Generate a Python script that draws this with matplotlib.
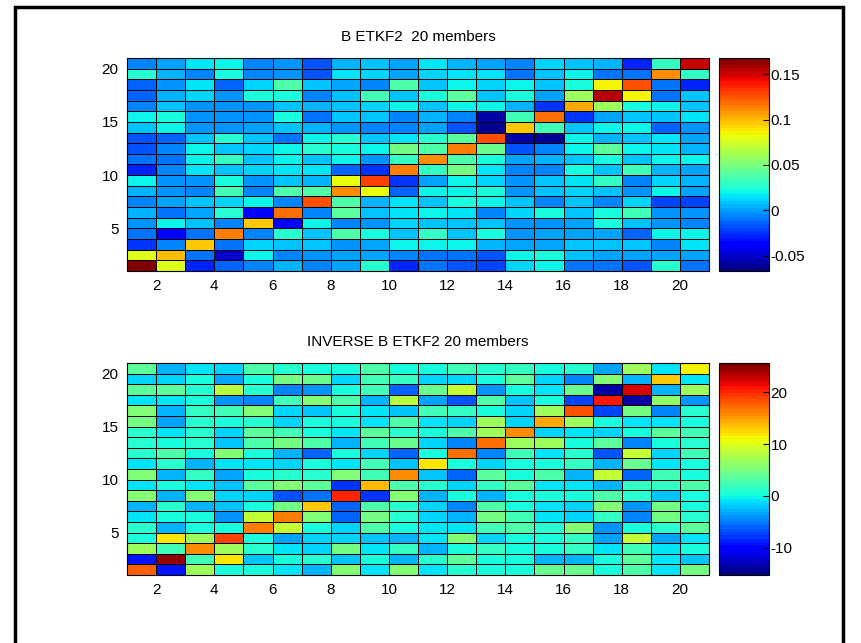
import numpy as np
import matplotlib.pyplot as plt
from matplotlib.patches import Rectangle

# B ETKF2 matrix, rows listed from y=20 (top) down to y=1
b_rows = [
    [-0.008, 0.002, 0.014, 0.021, -0.008, -0.001, -0.018, 0.004, 0.008, 0.000, 0.015, 0.004, 0.000, -0.006, 0.012, 0.008, 0.004, -0.030, 0.032, 0.152],
    [0.026, 0.006, -0.008, 0.022, -0.005, -0.001, -0.018, 0.016, 0.012, 0.002, 0.012, 0.014, 0.014, -0.011, 0.010, 0.018, -0.010, -0.010, 0.112, 0.032],
    [-0.015, -0.001, 0.014, -0.015, 0.012, 0.036, 0.010, 0.002, -0.005, 0.037, 0.008, 0.018, 0.012, 0.018, 0.008, 0.024, 0.085, 0.126, -0.010, -0.030],
    [-0.012, 0.004, 0.012, -0.003, 0.022, 0.022, -0.008, 0.010, 0.033, 0.008, 0.023, 0.042, 0.008, 0.022, 0.000, 0.058, 0.155, 0.085, -0.010, 0.008],
    [-0.006, 0.010, -0.001, -0.001, -0.001, 0.008, 0.006, 0.008, 0.012, 0.021, 0.008, 0.020, 0.020, 0.006, -0.025, 0.105, 0.058, 0.024, 0.018, 0.008],
    [0.021, 0.022, -0.001, -0.003, -0.003, 0.024, -0.010, 0.010, 0.010, -0.006, 0.004, -0.006, -0.058, 0.035, 0.118, -0.025, 0.002, 0.008, 0.010, 0.014],
    [0.010, 0.021, -0.001, -0.003, 0.000, 0.010, 0.006, -0.001, -0.005, -0.005, 0.000, -0.018, -0.060, 0.095, 0.035, 0.008, 0.018, 0.018, -0.013, -0.003],
    [-0.018, -0.015, 0.008, 0.026, 0.008, -0.011, 0.018, 0.026, 0.010, 0.014, 0.026, 0.042, 0.126, -0.058, -0.060, 0.020, 0.006, 0.010, 0.014, 0.000],
    [-0.017, -0.006, 0.021, 0.008, 0.012, 0.018, 0.026, 0.022, 0.021, 0.048, 0.038, 0.114, 0.045, -0.018, -0.006, 0.021, 0.042, 0.018, 0.014, 0.006],
    [-0.011, -0.011, 0.021, 0.030, 0.010, 0.018, 0.010, 0.018, -0.001, 0.032, 0.110, 0.037, 0.024, 0.000, 0.006, 0.008, 0.024, 0.008, 0.018, 0.018],
    [-0.028, -0.006, 0.016, 0.008, 0.012, 0.014, 0.014, -0.015, -0.024, 0.116, 0.032, 0.048, 0.016, -0.005, -0.008, 0.022, 0.008, 0.035, 0.004, 0.000],
    [0.018, -0.001, -0.003, 0.024, -0.003, 0.010, 0.006, 0.082, 0.130, -0.025, 0.000, 0.021, 0.012, -0.003, 0.010, 0.016, 0.030, -0.006, 0.012, 0.006],
    [0.006, -0.003, -0.008, 0.035, -0.005, 0.037, 0.038, 0.110, 0.082, -0.015, 0.018, 0.020, 0.024, -0.003, 0.010, 0.012, 0.008, -0.001, 0.018, 0.000],
    [-0.006, 0.000, 0.010, 0.012, 0.021, -0.005, 0.126, 0.038, 0.006, 0.014, 0.010, 0.024, 0.018, 0.008, -0.008, 0.010, -0.006, 0.012, -0.020, -0.022],
    [0.006, -0.010, 0.000, 0.028, -0.035, 0.120, -0.006, 0.040, 0.008, 0.014, 0.018, 0.014, -0.008, 0.012, 0.024, 0.008, 0.023, 0.035, -0.003, -0.001],
    [-0.001, 0.018, 0.010, -0.006, 0.095, -0.035, 0.020, -0.005, -0.003, 0.012, 0.010, 0.008, 0.010, -0.001, -0.001, 0.002, 0.023, 0.010, -0.003, -0.006],
    [-0.011, -0.040, -0.011, 0.116, -0.005, 0.028, 0.010, 0.037, 0.023, 0.010, 0.030, 0.008, 0.024, -0.001, 0.000, 0.000, 0.000, -0.015, 0.021, 0.021],
    [-0.025, -0.005, 0.095, -0.010, 0.012, 0.010, 0.010, -0.003, 0.000, 0.018, 0.020, 0.021, 0.006, 0.000, 0.002, 0.008, 0.008, 0.010, -0.005, 0.016],
    [0.078, 0.100, -0.010, -0.050, 0.018, -0.006, -0.001, 0.000, 0.000, -0.006, -0.010, -0.010, -0.018, 0.021, 0.022, 0.010, 0.000, 0.002, 0.002, 0.000],
    [0.165, 0.078, -0.030, -0.015, -0.005, 0.006, -0.005, 0.002, 0.025, -0.030, -0.011, -0.018, -0.020, 0.012, 0.021, -0.011, -0.011, -0.017, 0.026, -0.010],
]

# inverse B, same ordering
inv_rows = [
    [3.8, -2.8, -1.2, -1.5, 3.0, 0.8, 0.3, 0.1, 3.2, 0.4, 0.1, 2.0, 1.0, 1.8, 0.5, 1.0, -3.5, 7.0, -1.2, 11.5],
    [-1.5, -1.5, 0.6, -3.5, 0.5, 5.0, 4.0, -1.8, 2.5, 1.8, -1.5, -1.8, 0.5, 3.5, -1.8, -4.7, 5.8, -2.8, 13.5, -1.2],
    [3.5, 3.5, 1.0, 8.0, 1.0, -5.0, -3.8, 0.6, 2.5, -6.0, 4.2, 8.8, -3.8, 0.1, -1.2, 4.0, -14.0, 22.0, -2.8, 7.0],
    [-0.8, -0.8, 0.5, -3.8, -4.5, 2.5, 5.8, 2.7, -2.8, 8.0, -3.5, -6.8, 3.0, -2.2, 0.4, -7.6, 21.0, -14.0, 6.0, -3.8],
    [5.5, -2.8, 1.8, 2.5, 5.8, -1.5, -2.2, 0.5, -0.8, -2.2, 2.5, 1.8, 0.1, -1.8, 7.0, 18.5, -7.6, 5.0, -4.5, 1.0],
    [5.0, -3.5, 1.0, 0.1, 1.3, -1.5, 0.3, 0.3, -0.8, 3.0, -0.8, -1.5, 7.0, -1.5, 14.5, 7.0, 0.5, -1.2, -1.2, 0.5],
    [1.0, -1.2, 1.3, -1.5, 3.5, 2.5, 0.1, -0.8, 3.5, 1.3, 0.3, 3.0, 7.0, 15.8, -1.5, -1.2, -1.8, 0.1, 3.5, 2.3],
    [1.0, 0.3, 1.0, -2.2, 3.0, 5.0, 3.0, -3.1, 2.5, 4.2, -1.8, -4.5, 17.0, 7.0, 7.0, 0.1, 3.5, -4.5, 0.3, 1.3],
    [1.0, 3.0, 0.5, 5.8, 0.3, -3.1, -5.8, 0.5, -1.5, -6.3, 0.1, 17.0, -4.5, 2.5, -1.2, 1.3, -6.5, 8.8, -1.5, 2.3],
    [-1.2, 1.3, -3.1, -1.2, -1.2, -1.8, 0.1, -1.2, 2.5, -2.2, 12.0, 0.1, -1.8, 0.3, 0.1, 1.8, -2.8, 4.2, -0.8, 0.1],
    [5.8, -3.1, 1.8, -3.5, 0.1, 1.3, 1.0, 5.8, 2.5, 15.8, -2.2, -6.0, 3.5, 0.6, 3.0, -2.5, 8.5, -6.3, 2.5, 0.1],
    [-1.2, 0.5, -1.2, -2.2, 3.5, 5.8, 3.5, -8.0, 14.0, 3.0, 1.3, -1.5, 1.8, 3.5, -0.8, -0.8, -2.8, 1.8, 1.8, 3.0],
    [5.8, -2.5, 5.5, -1.5, -1.8, -6.5, -5.5, 20.0, -8.0, 5.8, -2.5, 0.6, -3.1, 0.3, 0.5, 0.6, 3.0, 1.0, -2.2, 0.1],
    [-2.8, 1.0, -2.8, -2.2, 0.5, 5.0, 13.5, -5.8, 3.0, 1.0, -1.5, -4.5, 3.0, 0.1, -0.8, -1.8, 5.5, -4.2, 5.0, 0.1],
    [-1.2, 0.1, 0.3, -3.8, 8.8, 16.2, 5.8, -5.8, 5.0, 1.0, -1.8, -2.8, 5.0, 2.5, -1.2, -1.8, 1.8, -4.5, 5.0, 1.0],
    [1.0, -2.5, 0.1, 0.1, 16.2, 8.8, 0.1, -1.5, 3.0, 0.1, -1.2, -0.8, 2.5, 3.0, 1.0, 5.8, -4.2, 0.5, 1.0, 3.5],
    [0.1, 12.0, 6.5, 19.0, 0.1, -3.5, -1.8, -1.5, -2.2, -2.8, -0.8, 5.8, -1.8, 0.3, 0.1, 1.8, -3.5, 8.5, -3.5, -1.2],
    [7.0, 2.5, 15.8, 6.5, 1.0, -0.8, -1.8, 5.0, -0.8, 1.8, -2.5, 0.5, 1.8, 0.6, 0.1, 1.8, -1.2, 2.5, -0.8, 0.1],
    [-9.0, 25.0, 2.5, 12.0, -2.2, 0.1, 1.0, -2.2, 0.3, -2.5, 1.3, 3.5, 0.1, 0.5, -3.1, -2.8, 0.1, 3.5, -1.2, -2.2],
    [17.5, -9.0, 7.0, 0.3, 0.6, -1.2, -2.5, 5.8, -1.2, 5.8, -1.2, 1.3, 0.6, 0.6, 4.0, 4.0, 0.5, 3.0, -1.2, 5.0],
]

titles = ['B ETKF2  20 members', 'INVERSE B ETKF2 20 members']
clims = [(-0.067, 0.168), (-15.3, 25.7)]
cbar_ticks = [[-0.05, 0, 0.05, 0.1, 0.15], [-10, 0, 10, 20]]
cbar_labels = [['-0.05', '0', '0.05', '0.1', '0.15'], ['-10', '0', '10', '20']]
x_ticks = [2, 4, 6, 8, 10, 12, 14, 16, 18, 20]
y_ticks = [5, 10, 15, 20]

plt.rcParams['font.family'] = ['Liberation Sans', 'DejaVu Sans']
plt.rcParams['font.size'] = 11

W, H = 861, 643
fig = plt.figure(figsize=(W / 100, H / 100), dpi=100)
fig.patch.set_facecolor('white')

# figure frame
fig.patches.append(Rectangle((15 / W, -0.01), 828 / W, 1 - 7 / H + 0.01,
                             transform=fig.transFigure, fill=False,
                             edgecolor='black', linewidth=2.5))

cmap = plt.get_cmap('jet', 64)
edges = np.arange(1, 22)

# pixel boxes: (top, bottom) of each axes
ax_y = [(58, 271), (363, 575)]

for k, rows in enumerate([b_rows, inv_rows]):
    data = np.flipud(np.array(rows))
    top, bot = ax_y[k]
    ax = fig.add_axes([127 / W, 1 - bot / H, 582 / W, (bot - top) / H])
    mesh = ax.pcolormesh(edges, edges, data, cmap=cmap,
                         vmin=clims[k][0], vmax=clims[k][1],
                         edgecolors='black', linewidth=0.6)
    ax.set_xlim(1, 21)
    ax.set_ylim(1, 21)
    ax.set_xticks(x_ticks)
    ax.set_yticks(y_ticks)
    ax.tick_params(direction='in', length=0, pad=6, labelsize=11)
    ax.set_title(titles[k], fontsize=11, pad=12)
    for s in ax.spines.values():
        s.set_linewidth(0.8)

    cax = fig.add_axes([719 / W, 1 - bot / H, 50 / W, (bot - top) / H])
    cb = fig.colorbar(mesh, cax=cax)
    cb.set_ticks(cbar_ticks[k])
    cb.set_ticklabels(cbar_labels[k])
    cax.tick_params(direction='in', length=4, width=0.8, pad=1, labelsize=11)
    cb.outline.set_linewidth(0.8)

fig.savefig('out.png', dpi=100)
